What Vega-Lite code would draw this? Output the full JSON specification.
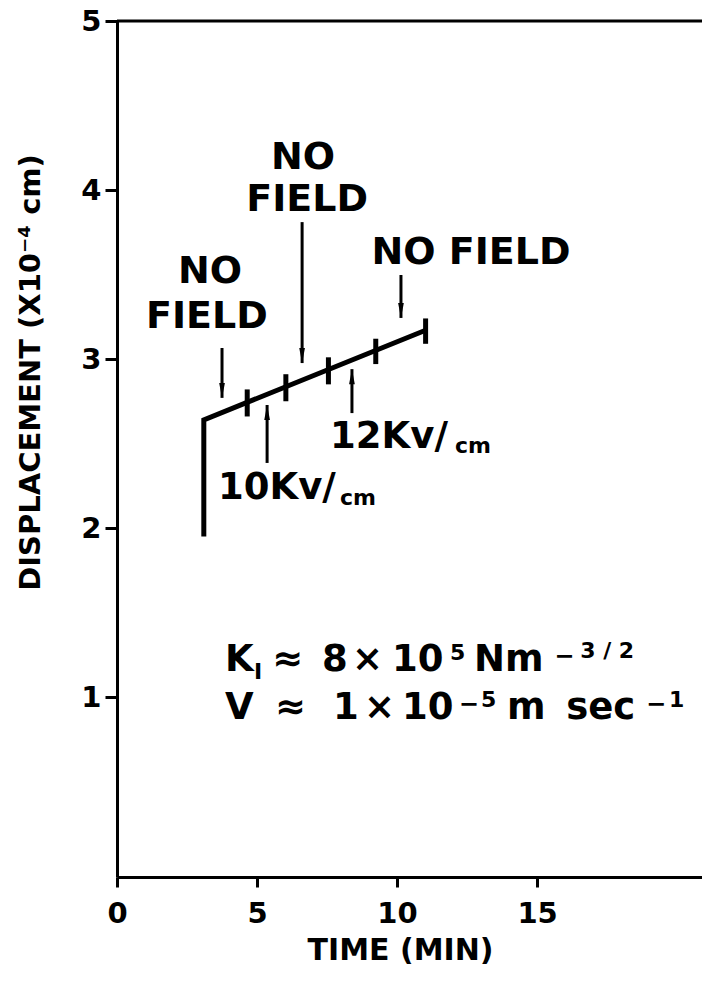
{
  "$schema": "https://vega.github.io/schema/vega-lite/v6.json",
  "width": 585,
  "height": 856,
  "autosize": {"type": "none"},
  "padding": {"left": 117, "top": 21, "right": 0, "bottom": 108},
  "background": "white",
  "config": {"view": {"stroke": null}, "font": "DejaVu Sans"},
  "datasets": {
    "trace": [
      {"t": 3.1, "d": 1.95, "o": 1},
      {"t": 3.1, "d": 2.64, "o": 2},
      {"t": 11.02, "d": 3.17, "o": 3}
    ],
    "ticks": [
      {"t": 4.65, "lo": 2.66, "hi": 2.82},
      {"t": 6.03, "lo": 2.75, "hi": 2.91},
      {"t": 7.55, "lo": 2.85, "hi": 3.01},
      {"t": 9.24, "lo": 2.97, "hi": 3.12},
      {"t": 11.02, "lo": 3.09, "hi": 3.24}
    ],
    "arrows": [
      {"t": 3.75, "tail": 3.065, "tip": 2.77, "dir": "down"},
      {"t": 6.61, "tail": 3.81, "tip": 2.976, "dir": "down"},
      {"t": 10.14, "tail": 3.497, "tip": 3.243, "dir": "down"},
      {"t": 5.36, "tail": 2.385, "tip": 2.728, "dir": "up"},
      {"t": 8.39, "tail": 2.68, "tip": 2.94, "dir": "up"}
    ],
    "labels": [
      {"t": 3.32, "d": 3.515, "text": "NO"},
      {"t": 3.21, "d": 3.249, "text": "FIELD"},
      {"t": 6.64, "d": 4.19, "text": "NO"},
      {"t": 6.79, "d": 3.94, "text": "FIELD"},
      {"t": 12.64, "d": 3.63, "text": "NO FIELD"}
    ],
    "bigleft": [
      {"t": 3.61, "d": 2.237, "text": "10Kv/"},
      {"t": 7.61, "d": 2.54, "text": "12Kv/"},
      {"t": 3.86, "d": 1.219, "text": "K"},
      {"t": 5.54, "d": 1.219, "text": "≈"},
      {"t": 7.32, "d": 1.219, "text": "8"},
      {"t": 8.39, "d": 1.219, "text": "×"},
      {"t": 9.82, "d": 1.219, "text": "10"},
      {"t": 12.75, "d": 1.219, "text": "Nm"},
      {"t": 3.86, "d": 0.935, "text": "V"},
      {"t": 5.64, "d": 0.935, "text": "≈"},
      {"t": 7.71, "d": 0.935, "text": "1"},
      {"t": 8.82, "d": 0.935, "text": "×"},
      {"t": 10.18, "d": 0.935, "text": "10"},
      {"t": 13.93, "d": 0.935, "text": "m"},
      {"t": 16.04, "d": 0.935, "text": "sec"}
    ],
    "minus": [
      {"t": 15.61, "d": 1.235, "text": "−"},
      {"t": 12.2, "d": 0.95, "text": "−"},
      {"t": 18.89, "d": 0.95, "text": "−"}
    ],
    "smallleft": [
      {"t": 7.96, "d": 2.18, "text": "cm"},
      {"t": 12.07, "d": 2.485, "text": "cm"},
      {"t": 4.89, "d": 1.15, "text": "I"},
      {"t": 11.89, "d": 1.26, "text": "5"},
      {"t": 16.54, "d": 1.27, "text": "3 / 2"},
      {"t": 13.0, "d": 0.985, "text": "5"},
      {"t": 19.71, "d": 0.985, "text": "1"}
    ]
  },
  "layer": [
    {
      "data": {"name": "trace"},
      "mark": {"type": "line", "color": "black", "strokeWidth": 5, "strokeJoin": "miter", "strokeCap": "butt"},
      "encoding": {
        "x": {
          "field": "t", "type": "quantitative",
          "scale": {"domain": [0, 20.89], "nice": false, "zero": false},
          "axis": {
            "values": [0, 5, 10, 15], "grid": false, "labelFlush": false, "format": "d",
            "domainColor": "black", "domainWidth": 3,
            "tickColor": "black", "tickWidth": 3, "tickSize": 10,
            "labelFontSize": 29, "labelFontWeight": "bold", "labelColor": "black", "labelPadding": 12,
            "title": "TIME (MIN)", "titleFontSize": 30, "titleFontWeight": "bold", "titleColor": "black",
            "titleX": 283, "titleY": 73, "titleBaseline": "middle", "titleAlign": "center"
          }
        },
        "y": {
          "field": "d", "type": "quantitative",
          "scale": {"domain": [-0.065, 5], "nice": false, "zero": false},
          "axis": {
            "values": [1, 2, 3, 4, 5], "grid": false, "format": "d",
            "domainColor": "black", "domainWidth": 3,
            "tickColor": "black", "tickWidth": 3, "tickSize": 12,
            "labelFontSize": 29, "labelFontWeight": "bold", "labelColor": "black", "labelPadding": 4,
            "title": "DISPLACEMENT (X10⁻⁴ cm)", "titleFontSize": 29, "titleFontWeight": "bold", "titleColor": "black",
            "titleX": -87, "titleY": 351, "titleAngle": -90, "titleAlign": "center", "titleBaseline": "middle"
          }
        },
        "order": {"field": "o"}
      }
    },
    {
      "data": {"values": [{"top": 5}]},
      "mark": {"type": "rule", "color": "black", "strokeWidth": 3},
      "encoding": {"y": {"field": "top", "type": "quantitative"}}
    },
    {
      "data": {"name": "ticks"},
      "mark": {"type": "rule", "color": "black", "strokeWidth": 5},
      "encoding": {
        "x": {"field": "t", "type": "quantitative"},
        "y": {"field": "lo", "type": "quantitative"},
        "y2": {"field": "hi"}
      }
    },
    {
      "data": {"name": "arrows"},
      "mark": {"type": "rule", "color": "black", "strokeWidth": 3},
      "encoding": {
        "x": {"field": "t", "type": "quantitative"},
        "y": {"field": "tail", "type": "quantitative"},
        "y2": {"field": "tip"}
      }
    },
    {
      "data": {"name": "arrows"},
      "transform": [{"filter": "datum.dir === 'down'"}],
      "mark": {"type": "point", "shape": "M-0.38,-1L0.38,-1L0,1Z", "size": 225, "filled": true, "color": "black", "opacity": 1, "yOffset": -7.5},
      "encoding": {
        "x": {"field": "t", "type": "quantitative"},
        "y": {"field": "tip", "type": "quantitative"}
      }
    },
    {
      "data": {"name": "arrows"},
      "transform": [{"filter": "datum.dir === 'up'"}],
      "mark": {"type": "point", "shape": "M-0.38,1L0.38,1L0,-1Z", "size": 225, "filled": true, "color": "black", "opacity": 1, "yOffset": 7.5},
      "encoding": {
        "x": {"field": "t", "type": "quantitative"},
        "y": {"field": "tip", "type": "quantitative"}
      }
    },
    {
      "data": {"name": "labels"},
      "mark": {"type": "text", "fontSize": 38, "fontWeight": "bold", "color": "black", "align": "center", "baseline": "middle"},
      "encoding": {
        "x": {"field": "t", "type": "quantitative"},
        "y": {"field": "d", "type": "quantitative"},
        "text": {"field": "text"}
      }
    },
    {
      "data": {"name": "bigleft"},
      "mark": {"type": "text", "fontSize": 37, "fontWeight": "bold", "color": "black", "align": "left", "baseline": "middle"},
      "encoding": {
        "x": {"field": "t", "type": "quantitative"},
        "y": {"field": "d", "type": "quantitative"},
        "text": {"field": "text"}
      }
    },
    {
      "data": {"name": "minus"},
      "mark": {"type": "text", "fontSize": 24, "fontWeight": "bold", "color": "black", "align": "left", "baseline": "middle"},
      "encoding": {
        "x": {"field": "t", "type": "quantitative"},
        "y": {"field": "d", "type": "quantitative"},
        "text": {"field": "text"}
      }
    },
    {
      "data": {"name": "smallleft"},
      "mark": {"type": "text", "fontSize": 22, "fontWeight": "bold", "color": "black", "align": "left", "baseline": "middle"},
      "encoding": {
        "x": {"field": "t", "type": "quantitative"},
        "y": {"field": "d", "type": "quantitative"},
        "text": {"field": "text"}
      }
    }
  ]
}
